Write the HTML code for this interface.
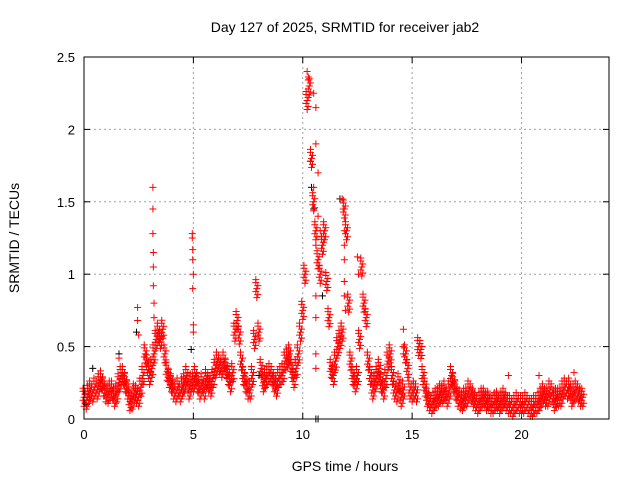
<!DOCTYPE html>
<html><head><meta charset="utf-8"><style>
body{margin:0;background:#fff;}
svg{display:block;font-family:"Liberation Sans",sans-serif;}
</style></head><body>
<svg id="c" width="640" height="480">
<text x="345" y="32" font-size="14" text-anchor="middle">Day 127 of 2025, SRMTID for receiver jab2</text>
<text x="345" y="471" font-size="14" text-anchor="middle">GPS time / hours</text>
<text transform="translate(19,238) rotate(-90)" font-size="14" text-anchor="middle">SRMTID / TECUs</text>
<g id="grid"></g>
<g id="ticks"></g>
<g id="black"></g>
<g id="red"></g>
<rect x="84" y="57" width="525" height="362" fill="none" stroke="#000" stroke-width="1"/>
</svg>
<script>
const xTicks=[0,5,10,15,20];
const yTicks=[0,0.5,1,1.5,2,2.5];
const yTickLabels=["0","0.5","1","1.5","2","2.5"];
const redStep=0.1;
const redValues=[
0.15,0.13,0.17,0.2,0.18,0.22,0.2,0.25,0.27,0.22,
0.18,0.17,0.2,0.2,0.15,0.18,0.25,0.3,0.3,0.25,
0.2,0.12,0.13,0.18,0.17,0.15,0.22,0.3,0.45,0.38,
0.3,0.35,0.45,0.55,0.6,0.55,0.62,0.45,0.33,0.28,
0.25,0.2,0.18,0.22,0.18,0.22,0.25,0.3,0.2,0.25,
0.25,0.3,0.25,0.2,0.25,0.2,0.28,0.25,0.22,0.28,
0.35,0.4,0.38,0.35,0.4,0.35,0.3,0.25,0.32,0.6,
0.68,0.58,0.4,0.3,0.25,0.2,0.2,0.3,0.55,0.9,
0.6,0.35,0.25,0.28,0.3,0.32,0.3,0.25,0.22,0.28,
0.3,0.32,0.4,0.42,0.45,0.35,0.28,0.35,0.45,0.6,
0.75,1.0,2.2,2.3,1.8,1.5,1.3,1.1,1.0,1.2,
1.3,0.95,0.7,0.35,0.3,0.4,0.5,0.55,0.6,1.45,
1.3,0.8,0.4,0.3,0.25,0.3,0.55,1.05,0.8,0.7,
0.4,0.3,0.2,0.25,0.3,0.35,0.25,0.2,0.28,0.4,
0.45,0.3,0.2,0.18,0.25,0.15,0.2,0.45,0.35,0.2,
0.18,0.2,0.18,0.5,0.48,0.3,0.22,0.15,0.12,0.1,
0.12,0.15,0.15,0.18,0.17,0.2,0.15,0.2,0.3,0.25,
0.2,0.15,0.13,0.12,0.15,0.15,0.2,0.18,0.15,0.12,
0.1,0.12,0.15,0.15,0.12,0.13,0.1,0.1,0.12,0.13,
0.1,0.12,0.15,0.12,0.1,0.1,0.08,0.1,0.12,0.1,
0.1,0.1,0.12,0.1,0.08,0.08,0.1,0.1,0.12,0.15,
0.18,0.15,0.15,0.2,0.18,0.12,0.15,0.15,0.15,0.2,
0.22,0.2,0.22,0.15,0.18,0.2,0.18,0.15,0.15];
const spikeTimes=[3.15,3.15,3.15,3.17,3.17,3.17,3.2,3.2,2.45,2.45,2.5,4.95,4.95,4.97,4.97,5,4.97,5,5,10.2,10.3,10.5,10.6,10.6,10.7,10.5,10.7,10.8,10.6,10.6,10.6,10.6,10.6,11.8,11.85,11.9,11.9,11.9,11.9,11.9,11.95,12.5,12.55,14.6,14.6,14.6,20.8,19.4,22.4,1.6];
const spikeValues=[1.6,1.45,1.28,1.15,1.05,0.92,0.8,0.7,0.77,0.68,0.58,1.28,1.25,1.17,1.1,1.0,0.9,0.65,0.6,2.4,2.35,2.25,2.15,1.9,1.7,1.6,1.4,1.3,1.2,0.85,0.7,0.45,0.35,1.52,1.45,1.3,1.2,1.1,0.95,0.85,0.75,1.12,1.0,0.62,0.5,0.45,0.3,0.3,0.32,0.42];
const blackTimes=[10.35,10.5,10.6,10.7,10.9,11.7,2.4,1.6,0.4,4.9,10.4,0.1,8.0];
const blackValues=[1.78,1.45,0.0,0.0,0.85,1.52,0.6,0.45,0.35,0.48,1.6,0.1,0.3];

const X0=84,X1=609,Y0=419,Y1=57;
const sx=t=>X0+(t/24)*(X1-X0);
const sy=v=>Y0-(v/2.5)*(Y0-Y1);
const NS="http://www.w3.org/2000/svg";
function mk(tag,parent,attrs){const e=document.createElementNS(NS,tag);for(const k in attrs)e.setAttribute(k,attrs[k]);parent.appendChild(e);return e;}
const grid=document.getElementById('grid'),ticks=document.getElementById('ticks');
xTicks.forEach(t=>{
  const x=sx(t);
  if(t>0){const g=mk('line',grid,{x1:x,x2:x,y1:Y1,y2:Y0,stroke:'#a0a0a0','stroke-dasharray':'2,3'});
  
  }
  mk('line',ticks,{x1:x,x2:x,y1:Y0,y2:Y0-6,stroke:'#000'});
  mk('line',ticks,{x1:x,x2:x,y1:Y1,y2:Y1+6,stroke:'#000'});
  const l=mk('text',ticks,{x:x,y:Y0+20,'font-size':13,'text-anchor':'middle'});l.textContent=t;
  
  
});
yTicks.forEach((v,i)=>{
  const y=sy(v);
  if(v>0&&v<2.5){const g=mk('line',grid,{x1:X0,x2:X1,y1:y,y2:y,stroke:'#a0a0a0','stroke-dasharray':'2,3'});
  
  }
  mk('line',ticks,{x1:X0,x2:X0+6,y1:y,y2:y,stroke:'#000'});
  mk('line',ticks,{x1:X1,x2:X1-6,y1:y,y2:y,stroke:'#000'});
  const l=mk('text',ticks,{x:X0-9,y:y+5,'font-size':13,'text-anchor':'end'});l.textContent=yTickLabels[i];
  
  
});
function cross(parent,x,y,col){
  return mk('path',parent,{d:`M${x-3.5},${y}h7M${x},${y-3.5}v7`,stroke:col,'stroke-width':1,fill:'none'});
}
const black=document.getElementById('black'),red=document.getElementById('red');
blackTimes.forEach((t,i)=>{const p=cross(black,sx(t),sy(blackValues[i]),'#000');
  
  });
redValues.forEach((v,i)=>{
  const x=sx(i*redStep),y=sy(v);
  const offs=[[-1,-6],[1,-3],[0,0],[-1,3],[1,6],[0,9],[-1,-9]];
  offs.forEach(o=>{const p=cross(red,x+o[0],y+o[1],'#ff0000');
    
    });
});
spikeTimes.forEach((t,i)=>{const p=cross(red,sx(t),sy(spikeValues[i]),'#ff0000');
  
  });
</script>
</body></html>
